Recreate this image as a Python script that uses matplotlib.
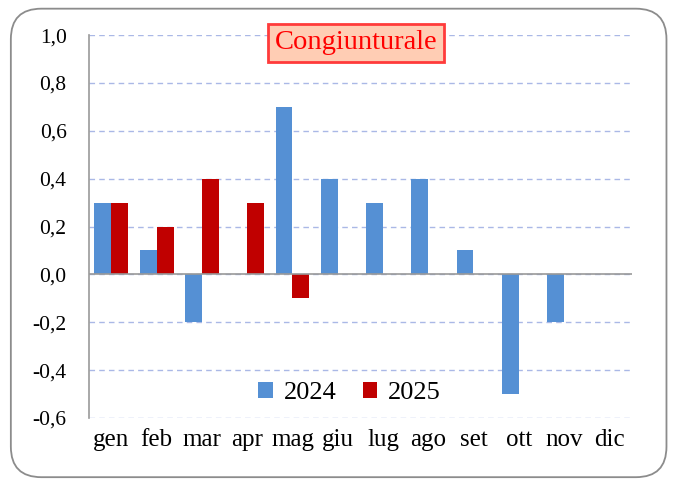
import numpy as np
import matplotlib.pyplot as plt
from matplotlib.patches import FancyBboxPatch

mesi = ["gen", "feb", "mar", "apr", "mag", "giu", "lug", "ago", "set", "ott", "nov", "dic"]
v2024 = [0.3, 0.1, -0.2, np.nan, 0.7, 0.4, 0.3, 0.4, 0.1, -0.5, -0.2, np.nan]
v2025 = [0.3, 0.2, 0.4, 0.3, -0.1, np.nan, np.nan, np.nan, np.nan, np.nan, np.nan, np.nan]
yticks = [-0.6, -0.4, -0.2, 0.0, 0.2, 0.4, 0.6, 0.8, 1.0]

plt.rcParams['font.family'] = ['Liberation Serif', 'DejaVu Serif']

fig = plt.figure(figsize=(6.78, 4.82), dpi=100)
ax = fig.add_axes([0.131, 0.133, 0.801, 0.794])

# cornice arrotondata
fig.patches.append(FancyBboxPatch((0.016, 0.010), 0.967, 0.972,
                                  boxstyle="round,pad=0,rounding_size=0.045",
                                  transform=fig.transFigure, fill=False,
                                  edgecolor="#8c8c8c", linewidth=1.3,
                                  mutation_aspect=6.78 / 4.82))

x = np.arange(len(mesi))
w = 0.375
ax.bar(x - w / 2, v2024, w, color="#5590d4", label="2024", zorder=3)
ax.bar(x + w / 2, v2025, w, color="#c00000", label="2025", zorder=3)

ax.set_xlim(-0.5, 11.5)
ax.set_ylim(-0.6, 1.0)
ax.set_yticks(yticks)
ax.set_yticklabels([f"{t:.1f}".replace(".", ",") for t in yticks], fontsize=15.5)
ax.set_xticks(x)
ax.set_xticklabels(mesi, fontsize=18)
ax.tick_params(length=0)
ax.tick_params(axis="y", pad=16)
ax.tick_params(axis="x", pad=8)

ax.grid(axis="y", color="#aab8e6", linestyle=(0, (4, 3)), linewidth=1, zorder=0)
ax.axhline(0, color="#999999", linewidth=1.2, zorder=4)
for s in ["top", "right", "bottom"]:
    ax.spines[s].set_visible(False)
ax.spines["left"].set_color("#999999")
ax.spines["left"].set_linewidth(1.2)

ax.text(0.492, 0.98, "Congiunturale", transform=ax.transAxes, ha="center", va="center",
        fontsize=20.5, color="#ff0000", zorder=6,
        bbox=dict(boxstyle="square,pad=0.22", facecolor="#ffcdb4", edgecolor="#ff3b3b", linewidth=2))

ax.legend(loc="center", bbox_to_anchor=(0.48, 0.065), ncol=2, frameon=False, fontsize=19,
          handlelength=0.55, handleheight=0.55, handletextpad=0.4, columnspacing=1.0)

fig.savefig("out.png", dpi=100)
